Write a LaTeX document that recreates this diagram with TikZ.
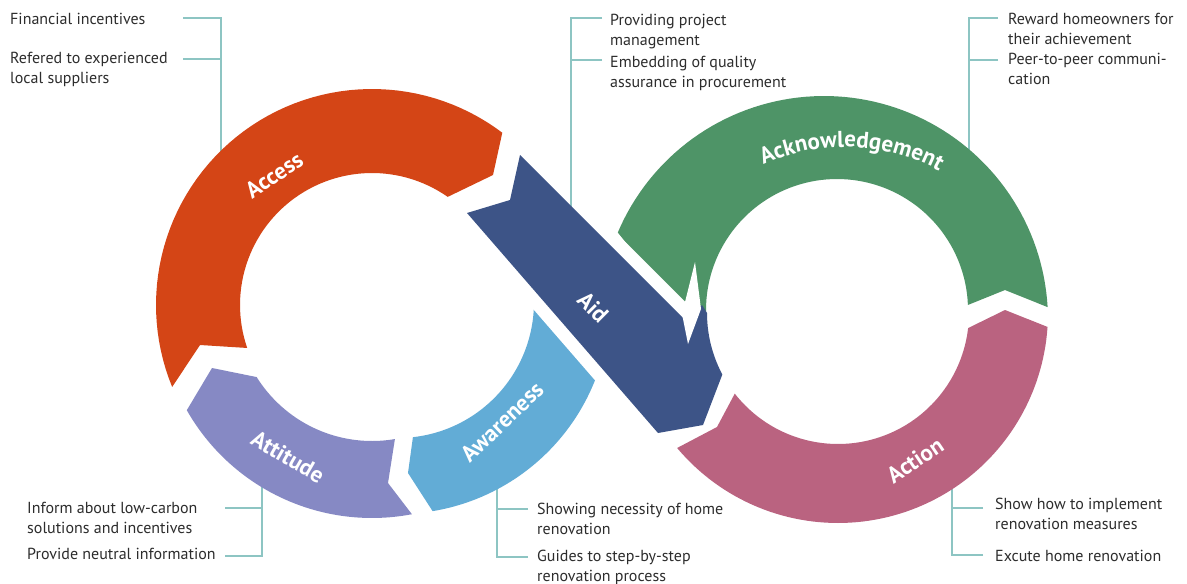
\documentclass[tikz,border=0pt]{standalone}
\usepackage{fontspec}
\setmainfont{PT Sans}
\usetikzlibrary{decorations.text}
\definecolor{cAccess}{RGB}{212,69,22}
\definecolor{cAid}{RGB}{61,84,135}
\definecolor{cAck}{RGB}{78,148,103}
\definecolor{cAction}{RGB}{186,99,128}
\definecolor{cAtt}{RGB}{134,137,196}
\definecolor{cAware}{RGB}{98,172,214}
\definecolor{cLine}{RGB}{141,197,195}
\definecolor{cText}{RGB}{45,45,45}
\begin{document}
\begin{tikzpicture}[x=1pt,y=-1pt,
  conn/.style={draw=cLine, line width=1.3pt},
  side/.style={anchor=base west, inner sep=0pt, align=left, text=cText, font=\fontsize{16}{19.5}\selectfont},
  lab/.style={text=white, font=\bfseries\fontsize{23}{23}\selectfont, inner sep=0pt},
  gapline/.style={draw=white, line width=26pt}]
\useasboundingbox (0,0) rectangle (1187,584);
\fill[white] (0,0) rectangle (1187,584);

% ---------- side texts (anchor = baseline of last line) ----------
\node[side] (t1) at (10,24) {Financial incentives};
\node[side] (t2) at (10,83) {Refered to experienced\\local suppliers};
\node[side] (t3) at (610,45) {Providing project\\management};
\node[side] (t4) at (610,87) {Embedding of quality\\assurance in procurement};
\node[side] (t5) at (1008,44) {Reward homeowners for\\their achievement};
\node[side] (t6) at (1008,84) {Peer-to-peer communi-\\cation};
\node[side] (t7) at (27,533) {Inform about low-carbon\\solutions and incentives};
\node[side] (t8) at (27,559) {Provide neutral information};
\node[side] (t9) at (537,534) {Showing necessity of home\\renovation};
\node[side] (t10) at (537,581) {Guides to step-by-step\\renovation process};
\node[side] (t11) at (995,529) {Show how to implement\\renovation measures};
\node[side] (t12) at (995,561) {Excute home renovation};

% ---------- connector coordinates ----------
\coordinate (k1) at (183,18);  \coordinate (s1a) at (221,18);
\coordinate (k2) at (183,59);  \coordinate (s1b) at (221,59);
\coordinate (s1e) at (221,165);
\coordinate (k3) at (602,18);  \coordinate (s2a) at (571,18);
\coordinate (k4) at (602,60);  \coordinate (s2b) at (571,60);
\coordinate (s2e) at (571,216);
\coordinate (k5) at (998,18);  \coordinate (s3a) at (969,18);
\coordinate (k6) at (998,60);  \coordinate (s3b) at (969,60);
\coordinate (s3e) at (969,165);
\coordinate (k7) at (225,508); \coordinate (s4a) at (262,508);
\coordinate (k8) at (225,556); \coordinate (s4b) at (262,556);
\coordinate (s4e) at (262,475);
\coordinate (k9) at (528,509); \coordinate (s5a) at (497,509);
\coordinate (k10) at (528,557); \coordinate (s5b) at (497,557);
\coordinate (s5e) at (497,478);
\coordinate (k11) at (983,508); \coordinate (s6a) at (952,508);
\coordinate (k12) at (983,555); \coordinate (s6b) at (952,555);
\coordinate (s6e) at (952,478);

\draw[conn] (k1) -- (s1a) -- (s1e);
\draw[conn] (k2) -- (s1b);
\draw[conn] (k5) -- (s3a) -- (s3e);
\draw[conn] (k6) -- (s3b);
\draw[conn] (k7) -- (s4a);
\draw[conn] (k8) -- (s4b) -- (s4e);
\draw[conn] (k9) -- (s5a);
\draw[conn] (k10) -- (s5b) -- (s5e);
\draw[conn] (k11) -- (s6a);
\draw[conn] (k12) -- (s6b) -- (s6e);

% ---------- bands ----------
% Access
\fill[cAccess] plot[domain=157.7:307.1,samples=60] ({372+216*cos(\x)},{305+216*sin(\x)})
  -- (493,175)
  -- plot[domain=305:161,samples=60] ({372+132*cos(\x)},{305+132*sin(\x)})
  -- (200,345) -- cycle;
% Attitude
\fill[cAtt] plot[domain=79.2:150.4,samples=50] ({372+213*cos(\x)},{305+213*sin(\x)})
  -- (212,368)
  -- plot[domain=148:80.3,samples=50] ({372+136*cos(\x)},{305+136*sin(\x)})
  -- (388,483) -- cycle;
% Awareness
\fill[cAware] plot[domain=-10:80.6,samples=60] ({398+212*cos(\x)},{302+212*sin(\x)})
  -- (408,473)
  -- plot[domain=83.7:-10,samples=60] ({398+136*cos(\x)},{302+136*sin(\x)})
  -- cycle;
% Acknowledgement
\fill[cAck] plot[domain=-3.3:-157,samples=80] ({824+224*cos(\x)},{320+224*sin(\x)})
  -- (700,335)
  -- plot[domain=-185:-2.2,samples=80] ({837+131*cos(\x)},{310+131*sin(\x)})
  -- (1005,290) -- cycle;
% Action
\fill[cAction] plot[domain=140:3.8,samples=80] ({838+210*cos(\x)},{313+210*sin(\x)})
  -- (1005,310)
  -- plot[domain=6.6:142,samples=80] ({838+131*cos(\x)},{313+131*sin(\x)})
  -- (717,427) -- cycle;

% ---------- Aid with white gap ----------
\coordinate (a1) at (520,155);
\coordinate (a2) at (686,321);
\coordinate (a3) at (658,433);
\coordinate (a4) at (467,213);
\draw[gapline] (a1) -- (a2);
\draw[gapline] (a4) -- (a3);
\draw[conn] (k3) -- (s2a) -- (s2e);
\draw[conn] (k4) -- (s2b);
\fill[cAid] (a1) -- (a2) -- (702,305)
  -- plot[domain=180:152,samples=20] ({838+131*cos(\x)},{313+131*sin(\x)})
  -- (703,425) -- (a3) -- (a4) -- (510,200) -- cycle;
\fill[white] (695,262) -- (701,309) -- (688,344) -- (682,314) -- cycle;

% ---------- labels ----------
\node[lab, rotate=34] (lAccess) at (274,175) {Access};
\node[lab, rotate=-30] (lAttitude) at (288,457) {Attitude};
\node[lab, rotate=44] (lAwareness) at (502,422) {Awareness};
\node[lab, rotate=-45] (lAid) at (593,307) {Aid};
\node[lab, rotate=34] (lAction) at (915,460) {Action};
\path[decorate, decoration={text along path, text align=center, text color=white,
   text={|\bfseries\fontsize{23}{23}\selectfont|Acknowledgement}}]
   plot[domain=-121:-55,samples=60] ({845+198*cos(\x)},{345+198*sin(\x)});
\end{tikzpicture}
\end{document}
